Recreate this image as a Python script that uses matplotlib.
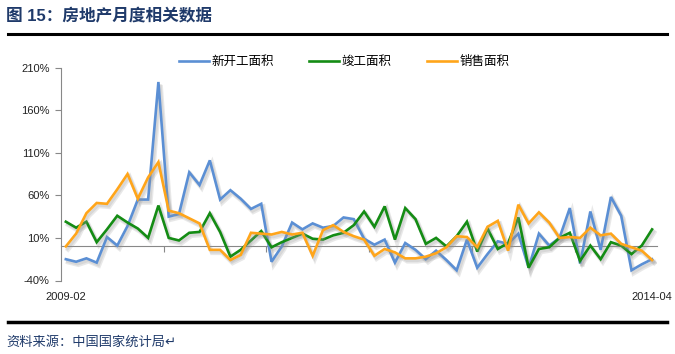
import matplotlib
matplotlib.use("Agg")
import matplotlib.pyplot as plt
from matplotlib.lines import Line2D
from matplotlib import patheffects as pe
from matplotlib.transforms import blended_transform_factory

plt.rcParams['font.family'] = ['Liberation Sans', 'Noto Sans CJK SC', 'DejaVu Sans']

title = "图 15：房地产月度相关数据"
source = "资料来源：中国国家统计局↵"
series_names = ["新开工面积", "竣工面积", "销售面积"]
x_labels = ["2009-02", "2014-04"]

new_start = [-15, -18, -14, -19, 11, 1, 24, 55, 55, 193, 35, 38, 87, 72, 101, 55, 66, 56, 44, 50,
             -18, 0, 28, 20, 27, 22, 24, 34, 32, 9, 2, 8, -19, 4, -4, -15, -5, -16, -28, 8,
             -25, -9, 6, 3, 15, -25, 15, 1, 10, 45, -20, 41, -4, 58, 36, -28, -21, -15]
completed = [29, 22, 29, 5, 20, 36, 28, 21, 10, 48, 10, 7, 16, 17, 39, 17, -12, -4, 7, 18,
             -1, 5, 10, 15, 9, 8, 13, 16, 25, 41, 23, 47, 8, 45, 32, 3, 10, 0, 12, 29,
             -6, 21, -3, 4, 34, -25, -3, -1, 10, 16, -17, 1, -15, 5, 1, -9, 1, 20]
sales = [0, 15, 39, 51, 50, 67, 85, 56, 81, 99, 42, 39, 33, 27, -4, -4, -16, -10, 16, 15,
         14, 17, 14, 16, -11, 19, 25, 17, 12, 8, -11, -3, -7, -14, -14, -12, -8, -1, 12, 11,
         -1, 23, 30, -5, 49, 27, 40, 28, 10, 11, 10, 22, 13, 15, 3, -1, -5, -16]

y_ticks = [-40, 10, 60, 110, 160, 210]
colors = ["#5B8FD4", "#148C14", "#FFA51A"]

W, H = 675, 354
fig = plt.figure(figsize=(W / 100, H / 100), dpi=100)
left, right, top, bottom = 60.7, 657.2, 67.5, 280.5
ax = fig.add_axes([left / W, 1 - bottom / H, (right - left) / W, (bottom - top) / H])

n = len(new_start)
xs = list(range(n))
shadow = [pe.SimpleLineShadow(offset=(1.6, -2.2), shadow_color='#9a9a9a', alpha=0.22, linewidth=3.2),
          pe.SimpleLineShadow(offset=(1.2, -1.6), shadow_color='#8a8a8a', alpha=0.18, linewidth=2.2),
          pe.Normal()]
for vals, c in zip([new_start, completed, sales], colors):
    ax.plot(xs, vals, color=c, lw=1.9, solid_joinstyle='miter', path_effects=shadow, zorder=3)

ax.set_xlim(-0.5, n - 0.5)
ax.set_ylim(y_ticks[0], y_ticks[-1])
ax.set_yticks(y_ticks)
ax.set_yticklabels([f"{v}%" for v in y_ticks], fontsize=8, color='#222222')
ax.tick_params(axis='y', direction='out', length=4, width=0.8, color='#888888', pad=4)

for s in ['top', 'right']:
    ax.spines[s].set_visible(False)
ax.spines['left'].set_color('#888888')
ax.spines['left'].set_linewidth(0.8)
ax.spines['bottom'].set_position(('data', 0))
ax.spines['bottom'].set_color('#888888')
ax.spines['bottom'].set_linewidth(0.8)
ax.set_xticks([k + 9.5 for k in range(0, n - 10, 10)])
ax.set_xticklabels([])
ax.tick_params(axis='x', direction='out', length=4, width=0.8, color='#888888')

tr = blended_transform_factory(ax.transData, ax.transAxes)
ax.text(0, -0.078, x_labels[0], transform=tr, ha='center', va='center', fontsize=8, color='#222222')
ax.text(n - 1, -0.078, x_labels[1], transform=tr, ha='center', va='center', fontsize=8, color='#222222')

handles = [Line2D([], [], color=c, lw=1.9) for c in colors]
fig.legend(handles, series_names, loc='center', bbox_to_anchor=(0.51, 1 - 62 / H), ncol=3,
           frameon=False, fontsize=9, handlelength=2.4, handletextpad=0.2, columnspacing=2.8)

fig.text(6 / W, 1 - 16 / H, title, fontsize=12, fontweight='bold', color='#1F3A6A', va='center', ha='left')
fig.add_artist(Line2D([8 / W, 667 / W], [1 - 33.5 / H] * 2, color='black', lw=2.2))
fig.add_artist(Line2D([8 / W, 667 / W], [1 - 322 / H] * 2, color='black', lw=2.5))
fig.text(6 / W, 1 - 342 / H, source, fontsize=9.5, color='#1F3A6A', va='center', ha='left', style='italic')

fig.savefig("out.png", dpi=100)
